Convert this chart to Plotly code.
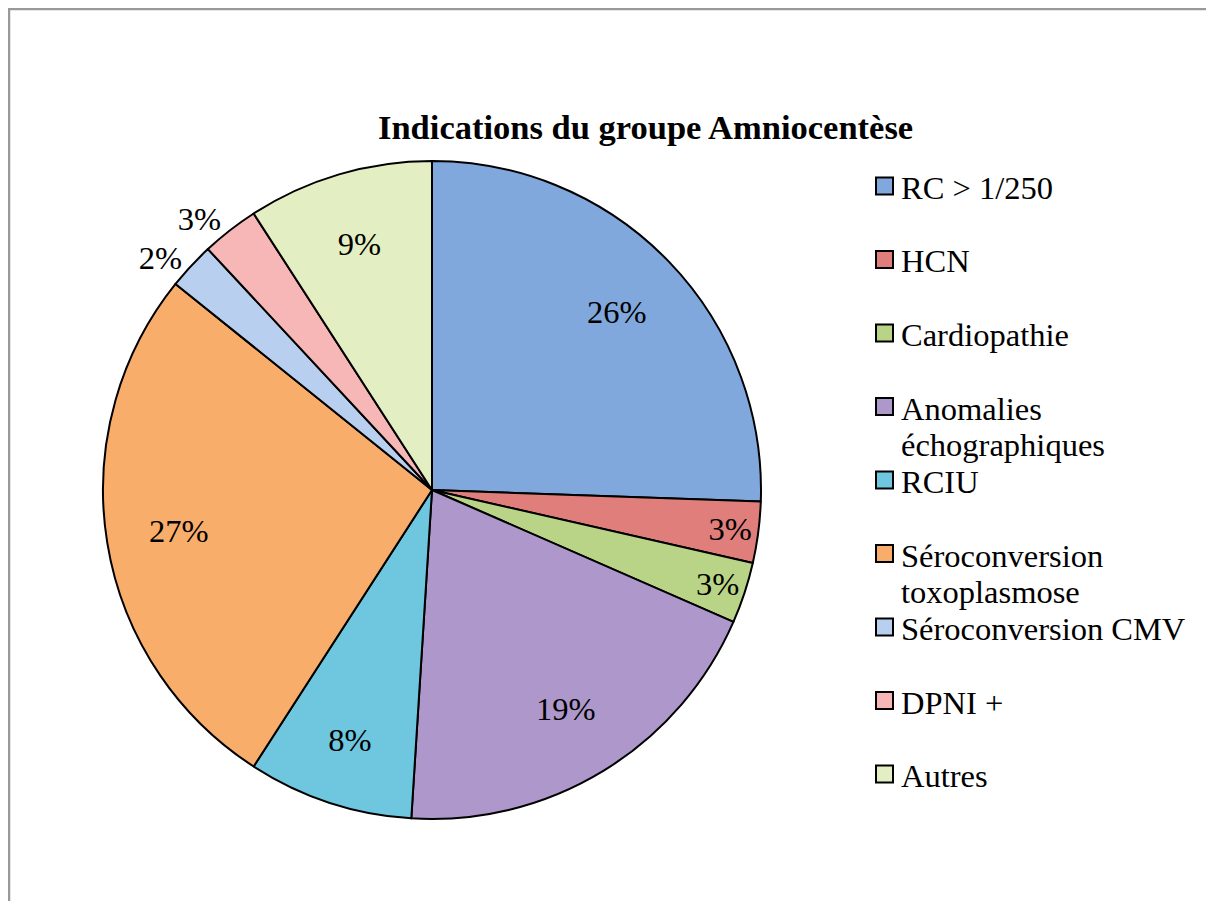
import math
import plotly.graph_objects as go

# ---- data ----
title = "Indications du groupe Amniocentèse"
labels = ["RC > 1/250", "HCN", "Cardiopathie", "Anomalies échographiques", "RCIU",
          "Séroconversion toxoplasmose", "Séroconversion CMV", "DPNI +", "Autres"]
legend_text = ["RC > 1/250", "HCN", "Cardiopathie", "Anomalies<br>échographiques", "RCIU",
               "Séroconversion<br>toxoplasmose", "Séroconversion CMV", "DPNI +", "Autres"]
values = [25.5, 3.0, 3.0, 19.4, 8.1, 26.6, 2.3, 2.8, 9.1]
colors = ["#80a8dd", "#e07e7b", "#bad487", "#ae98cb", "#6fc6df",
          "#f9ad6b", "#b8cff0", "#f6b7b6", "#e3efc2"]
text_pos = ["inside", "inside", "inside", "inside", "inside",
            "inside", "outside", "outside", "inside"]

W, H = 1214, 901
OFF = 8  # page body margin in the rendered screenshot
FONT = "Liberation Serif"
FS = 32.5

def px_x(x):
    return (x - OFF) / W

def px_y(y):
    return 1 - (y - OFF) / H

# pie placement (screen pixels)
PIE_L, PIE_R, PIE_T, PIE_B = 103, 761, 161, 819
cx, cy = (PIE_L + PIE_R) / 2, (PIE_T + PIE_B) / 2
R = (PIE_R - PIE_L) / 2

total = sum(values)
pct = [f"{round(100 * v / total)}%" for v in values]
big = [v / total > 0.15 for v in values]
pie_text = ["" if b else p for b, p in zip(big, pct)]

fig = go.Figure()
fig.add_trace(go.Pie(
    labels=labels,
    values=values,
    text=pie_text,
    sort=False,
    direction="clockwise",
    rotation=0,
    marker=dict(colors=colors, line=dict(color="black", width=2)),
    texttemplate="%{text}",
    textposition=text_pos,
    insidetextorientation="horizontal",
    textfont=dict(family=FONT, size=FS, color="black"),
    domain=dict(x=[px_x(PIE_L), px_x(PIE_R)], y=[px_y(PIE_B), px_y(PIE_T)]),
    showlegend=False,
    hoverinfo="label+percent",
))

shapes = []
annotations = []

# labels of the large slices, placed further out along the bisector
cum = 0.0
for v, p, b in zip(values, pct, big):
    mid = cum + v / 2
    cum += v
    if not b:
        continue
    ang = math.radians(90 - 360 * mid / total)
    x = cx + 0.78 * R * math.cos(ang)
    y = cy - 0.78 * R * math.sin(ang)
    annotations.append(dict(text=p, xref="paper", yref="paper", x=px_x(x), y=px_y(y),
                            xanchor="center", yanchor="middle", showarrow=False,
                            font=dict(family=FONT, size=FS, color="black")))

# frame
shapes.append(dict(type="rect", xref="paper", yref="paper",
                   x0=px_x(9), x1=px_x(1240), y0=px_y(930), y1=px_y(9),
                   line=dict(color="#999999", width=2.5), fillcolor="rgba(0,0,0,0)", layer="below"))

# title
annotations.append(dict(text="<b>" + title + "</b>", xref="paper", yref="paper",
                        x=px_x(645), y=px_y(127), xanchor="center", yanchor="middle",
                        showarrow=False, font=dict(family=FONT, size=34.5, color="black")))

# manual legend
slot = 73.5
for i, (lt, c) in enumerate(zip(legend_text, colors)):
    yc = 186 + slot * i
    shapes.append(dict(type="rect", xref="paper", yref="paper",
                       x0=px_x(876), x1=px_x(893), y0=px_y(yc + 8.5), y1=px_y(yc - 8.5),
                       fillcolor=c, line=dict(color="black", width=2)))
    for j, line in enumerate(lt.split("<br>")):
        annotations.append(dict(text=line, xref="paper", yref="paper",
                                x=px_x(899), y=px_y(yc + 2 + 36 * j),
                                xanchor="left", yanchor="middle", showarrow=False,
                                font=dict(family=FONT, size=FS, color="black")))

fig.update_layout(
    width=W, height=H,
    margin=dict(l=0, r=0, t=0, b=0),
    paper_bgcolor="white",
    plot_bgcolor="white",
    shapes=shapes,
    annotations=annotations,
)

fig.write_html("out.html")
